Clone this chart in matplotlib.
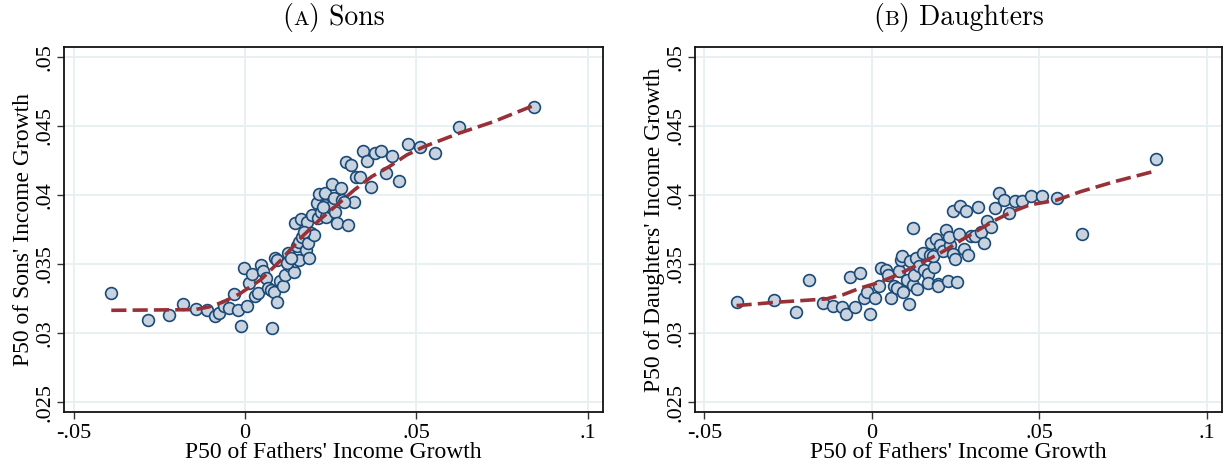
import matplotlib
matplotlib.use("Agg")
import matplotlib.pyplot as plt
from matplotlib.offsetbox import TextArea, HPacker, AnchoredOffsetbox

# ---- Data: Sons ----
sons_x = [-0.0390, -0.0283, -0.0223, -0.0180, -0.0142, -0.0112, -0.0088, -0.0076, -0.0061, -0.0046,
          -0.0032, -0.0020, -0.0010, 0.0005, -0.0002, 0.0012, 0.0022, 0.0030, 0.0038, 0.0046,
          0.0053, 0.0061, 0.0066, 0.0078, 0.0076, 0.0084, 0.0094, 0.0088, 0.0093, 0.0101,
          0.0112, 0.0117, 0.0127, 0.0132, 0.0142, 0.0147, 0.0157, 0.0152, 0.0157, 0.0167,
          0.0177, 0.0186, 0.0183, 0.0145, 0.0164, 0.0180, 0.0193, 0.0203, 0.0196, 0.0210,
          0.0213, 0.0223, 0.0233, 0.0238, 0.0248, 0.0264, 0.0269, 0.0216, 0.0233, 0.0254,
          0.0259, 0.0281, 0.0284, 0.0302, 0.0317, 0.0294, 0.0311, 0.0325, 0.0335, 0.0368,
          0.0345, 0.0355, 0.0380, 0.0396, 0.0411, 0.0429, 0.0449, 0.0477, 0.0512, 0.0555,
          0.0626, 0.0845, 0.0122, 0.0135, 0.0172, 0.0228, 0.0289]
sons_y = [0.03289, 0.03097, 0.03130, 0.03207, 0.03176, 0.03169, 0.03125, 0.03145, 0.03193, 0.03181,
          0.03282, 0.03169, 0.03053, 0.03198, 0.03470, 0.03361, 0.03429, 0.03265, 0.03289, 0.03489,
          0.03446, 0.03397, 0.03325, 0.03036, 0.03313, 0.03296, 0.03222, 0.03542, 0.03525, 0.03373,
          0.03337, 0.03421, 0.03578, 0.03482, 0.03438, 0.03518, 0.03530, 0.03626, 0.03662, 0.03698,
          0.03602, 0.03542, 0.03650, 0.03795, 0.03824, 0.03800, 0.03722, 0.03706, 0.03855, 0.03939,
          0.03831, 0.03879, 0.03927, 0.03843, 0.03915, 0.03879, 0.03795, 0.04007, 0.04011, 0.04076,
          0.03975, 0.04052, 0.03963, 0.03778, 0.03946, 0.04235, 0.04218, 0.04127, 0.04127, 0.04055,
          0.04317, 0.04247, 0.04305, 0.04317, 0.04161, 0.04281, 0.04103, 0.04365, 0.04344, 0.04300,
          0.04493, 0.04637, 0.03506, 0.03542, 0.03734, 0.03915, 0.03951]
sons_fit_x = [-0.0390, -0.0147, -0.0106, -0.0066, -0.0015, 0.0046, 0.0106, 0.0167, 0.0218, 0.0269,
              0.0319, 0.0370, 0.0421, 0.0472, 0.0522, 0.0624, 0.0725, 0.0845]
sons_fit_y = [0.03164, 0.03169, 0.03188, 0.03222, 0.03284, 0.03385, 0.03530, 0.03698, 0.03819, 0.03927,
              0.04035, 0.04132, 0.04204, 0.04288, 0.04348, 0.04445, 0.04529, 0.04649]

# ---- Data: Daughters ----
dau_x = [-0.0404, -0.0291, -0.0228, -0.0188, -0.0147, -0.0117, -0.0089, -0.0078, -0.0066, -0.0049,
         -0.0035, -0.0023, -0.0005, -0.0015, 0.0010, 0.0020, 0.0027, 0.0041, 0.0049, 0.0056,
         0.0066, 0.0074, 0.0081, 0.0086, 0.0091, 0.0094, 0.0110, 0.0106, 0.0115, 0.0122,
         0.0124, 0.0127, 0.0132, 0.0135, 0.0142, 0.0152, 0.0157, 0.0167, 0.0167, 0.0172,
         0.0177, 0.0186, 0.0183, 0.0190, 0.0196, 0.0198, 0.0203, 0.0213, 0.0220, 0.0226,
         0.0233, 0.0230, 0.0243, 0.0248, 0.0254, 0.0243, 0.0264, 0.0281, 0.0259, 0.0274,
         0.0287, 0.0297, 0.0307, 0.0316, 0.0325, 0.0335, 0.0345, 0.0355, 0.0367, 0.0378,
         0.0393, 0.0409, 0.0426, 0.0449, 0.0475, 0.0509, 0.0553, 0.0626, 0.0847]
dau_y = [0.03222, 0.03236, 0.03152, 0.03381, 0.03217, 0.03198, 0.03186, 0.03140, 0.03402, 0.03186,
         0.03434, 0.03253, 0.03140, 0.03294, 0.03253, 0.03337, 0.03470, 0.03458, 0.03417, 0.03253,
         0.03337, 0.03325, 0.03446, 0.03530, 0.03559, 0.03296, 0.03210, 0.03381, 0.03518, 0.03349,
         0.03757, 0.03422, 0.03542, 0.03318, 0.03482, 0.03578, 0.03458, 0.03429, 0.03361, 0.03566,
         0.03651, 0.03477, 0.03554, 0.03680, 0.03357, 0.03337, 0.03639, 0.03590, 0.03747, 0.03373,
         0.03639, 0.03694, 0.03573, 0.03535, 0.03366, 0.03880, 0.03916, 0.03880, 0.03718, 0.03607,
         0.03561, 0.03704, 0.03704, 0.03911, 0.03728, 0.03651, 0.03814, 0.03764, 0.03904, 0.04012,
         0.03959, 0.03867, 0.03957, 0.03957, 0.03988, 0.03995, 0.03976, 0.03718, 0.04260]
dau_fit_x = [-0.0404, -0.0289, -0.0137, -0.0086, -0.0035, 0.0015, 0.0066, 0.0117, 0.0167, 0.0218,
             0.0269, 0.0319, 0.0370, 0.0421, 0.0472, 0.0548, 0.0624, 0.0725, 0.0847]
dau_fit_y = [0.03198, 0.03222, 0.03246, 0.03277, 0.03325, 0.03361, 0.03410, 0.03470, 0.03530, 0.03598,
             0.03675, 0.03747, 0.03819, 0.03880, 0.03928, 0.03959, 0.04024, 0.04096, 0.04173]

x_ticks = [-0.05, 0, 0.05, 0.1]
x_ticklabels = ["-.05", "0", ".05", ".1"]
y_ticks = [0.025, 0.03, 0.035, 0.04, 0.045, 0.05]
y_ticklabels = [".025", ".03", ".035", ".04", ".045", ".05"]

panel_letters = ["A", "B"]
panel_names = ["Sons", "Daughters"]
xlabel = "P50 of Fathers' Income Growth"
ylabels = ["P50 of Sons' Income Growth", "P50 of Daughters' Income Growth"]

SERIF = ["Liberation Serif", "DejaVu Serif"]
TITLE_FONT = ["cmr10", "DejaVu Serif"]
plt.rcParams["font.family"] = SERIF

W, H = 1228, 472
fig = plt.figure(figsize=(W / 100, H / 100), dpi=100)

boxes = [(64, 603), (695, 1222)]
top_px, bot_px = 47, 412

panels = [(sons_x, sons_y, sons_fit_x, sons_fit_y), (dau_x, dau_y, dau_fit_x, dau_fit_y)]

for i, (px, py, fx, fy) in enumerate(panels):
    l, r = boxes[i]
    ax = fig.add_axes([l / W, 1 - bot_px / H, (r - l) / W, (bot_px - top_px) / H])
    ax.set_xlim(-0.0528, 0.1045)
    ax.set_ylim(0.02428, 0.0507)
    ax.grid(True, color="#e6eff1", linewidth=1.3, zorder=0)
    ax.set_axisbelow(True)
    ax.scatter(px, py, s=72, facecolor="#c8d3df", edgecolor="#1a4a78", linewidths=1.2, zorder=3)
    ax.plot(fx, fy, color="#983038", linestyle=(0, (4.2, 1.7)), linewidth=2.6, zorder=4)
    ax.set_xticks(x_ticks)
    ax.set_xticklabels(x_ticklabels, fontsize=16)
    ax.set_yticks(y_ticks)
    ax.set_yticklabels(y_ticklabels, fontsize=16, rotation=90, va="center")
    ax.tick_params(axis="both", length=5, width=1, color="#333333", pad=2)
    ax.tick_params(axis="x", pad=4)
    for sp in ax.spines.values():
        sp.set_linewidth(1.3)
        sp.set_color("#111111")
    ax.set_xlabel(xlabel, fontsize=17, labelpad=-1)
    ax.set_ylabel(ylabels[i], fontsize=17, labelpad=1)

    # Title with small-caps panel letter
    parts = [TextArea("(", textprops=dict(fontsize=20, family=TITLE_FONT)),
             TextArea(panel_letters[i], textprops=dict(fontsize=15, family=TITLE_FONT)),
             TextArea(") " + panel_names[i], textprops=dict(fontsize=20, family=TITLE_FONT))]
    box = HPacker(children=parts, align="baseline", pad=0, sep=0)
    anchored = AnchoredOffsetbox(loc="lower center", child=box, pad=0, frameon=False,
                                 bbox_to_anchor=(0.5, 1.0 + 15 / 365), bbox_transform=ax.transAxes,
                                 borderpad=0)
    ax.add_artist(anchored)

fig.savefig("out.png", dpi=100)
